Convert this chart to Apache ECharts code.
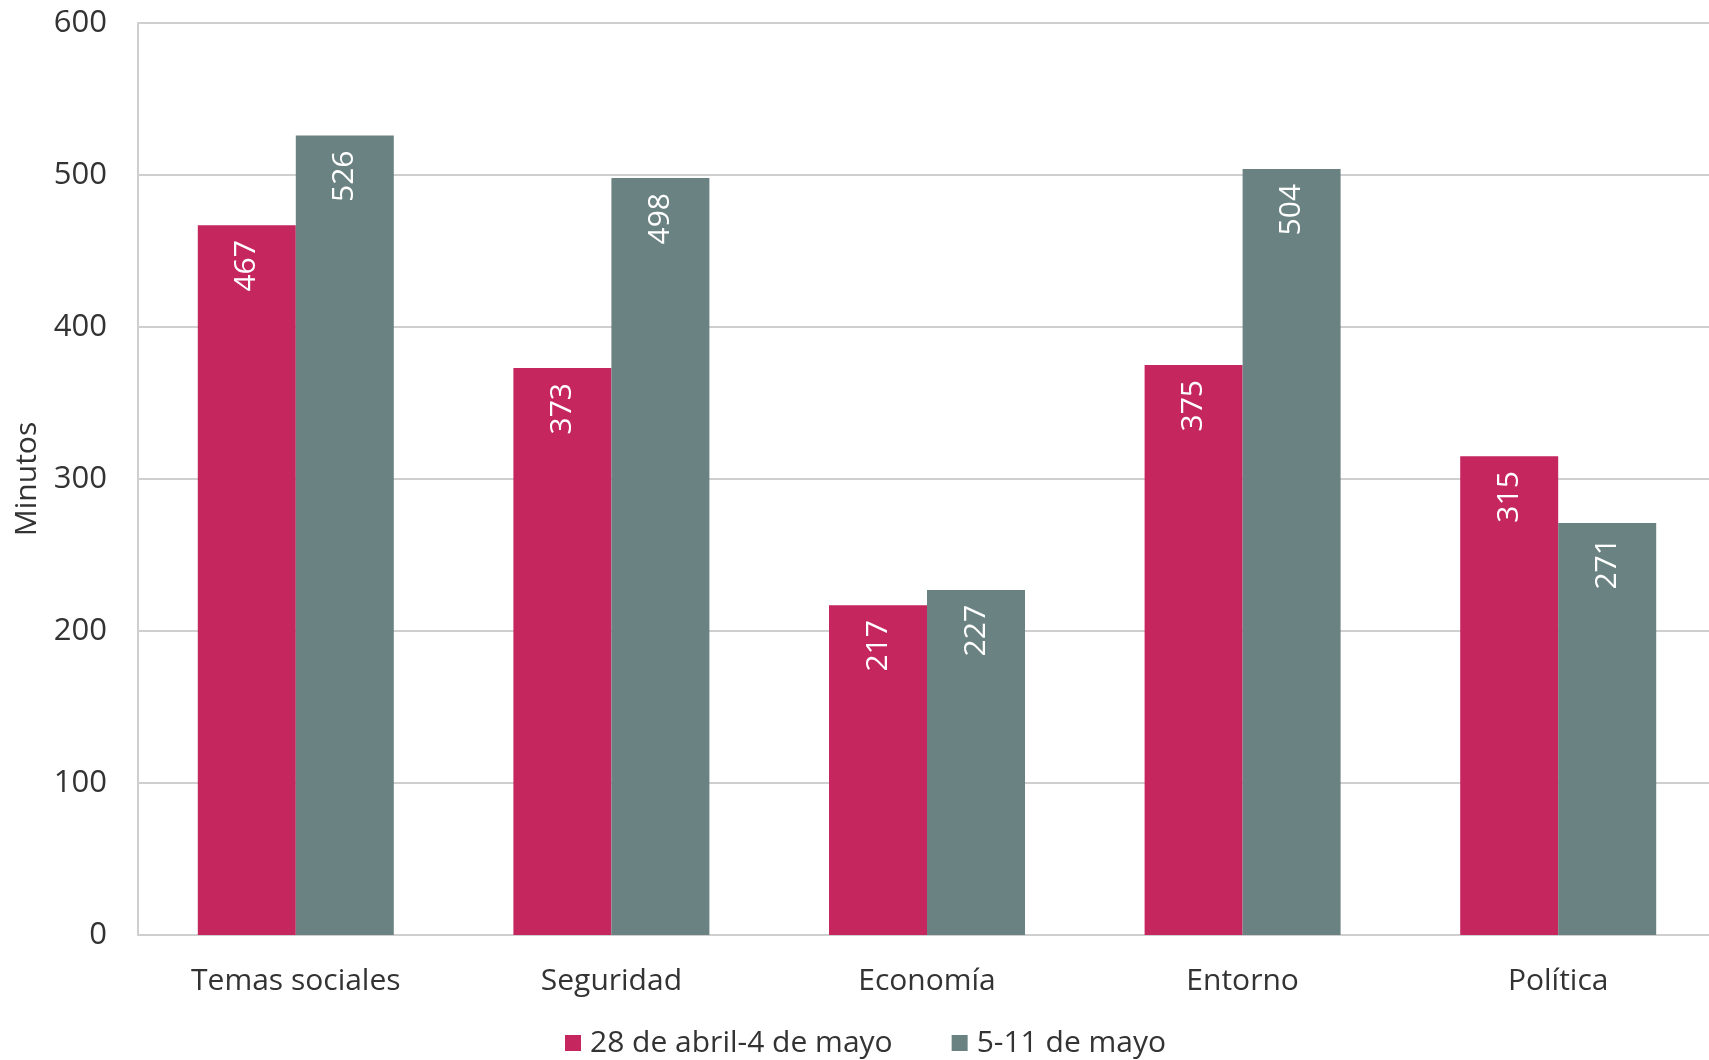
<!DOCTYPE html>
<html><head><meta charset="utf-8">
<script src="https://cdn.jsdelivr.net/npm/echarts@6/dist/echarts.min.js"></script>
<style>html,body{margin:0;padding:0;background:#fff}#c{width:1709px;height:1060px}</style>
</head><body><div id="c"></div>
<script>
const categories = ["Temas sociales", "Seguridad", "Economía", "Entorno", "Política"];
const seriesNames = ["28 de abril-4 de mayo", "5-11 de mayo"];
const week1 = [467, 373, 217, 375, 315];
const week2 = [526, 498, 227, 504, 271];
const yTicks = { min: 0, max: 600, interval: 100 };
const yName = "Minutos";

const FONT = "'Open Sans', 'Noto Sans', sans-serif";
const chart = echarts.init(document.getElementById('c'), null, {renderer: 'canvas'});
const lbl = {
  show: true, position: 'insideTop', distance: 15, rotate: 90,
  align: 'right', verticalAlign: 'middle',
  color: '#fff', fontSize: 30, fontFamily: FONT
};
chart.setOption({
  animation: false,
  textStyle: { fontFamily: FONT },
  grid: { left: 138, width: 1578, top: 23, bottom: 125, outerBoundsMode: 'none', containLabel: false },
  legend: {
    bottom: -3, left: 560, itemWidth: 16, itemHeight: 16, itemGap: 59,
    icon: 'rect',
    textStyle: { fontSize: 30, color: '#333', fontFamily: FONT, padding: [0,0,0,4] },
    data: seriesNames
  },
  xAxis: {
    type: 'category', data: categories,
    axisLine: { lineStyle: { color: '#cfcfcf', width: 2 } },
    axisTick: { show: false },
    axisLabel: { fontSize: 30, color: '#333', margin: 31, fontFamily: FONT }
  },
  yAxis: {
    type: 'value', min: yTicks.min, max: yTicks.max, interval: yTicks.interval,
    name: yName, nameLocation: 'middle', nameGap: 94, nameRotate: 90,
    nameTextStyle: { fontSize: 30, color: '#333', fontFamily: FONT },
    axisLine: { show: true, lineStyle: { color: '#cfcfcf', width: 2 } },
    axisTick: { show: false },
    splitLine: { lineStyle: { color: '#cfcfcf', width: 2 } },
    axisLabel: { fontSize: 31, color: '#333', margin: 31, fontFamily: FONT }
  },
  series: [
    { name: seriesNames[0], type: 'bar', data: week1, barGap: '0%', barWidth: 98,
      itemStyle: { color: '#C5265E' }, label: lbl },
    { name: seriesNames[1], type: 'bar', data: week2, barGap: '0%', barWidth: 98,
      itemStyle: { color: '#6A8382' }, label: lbl }
  ]
});
</script></body></html>
